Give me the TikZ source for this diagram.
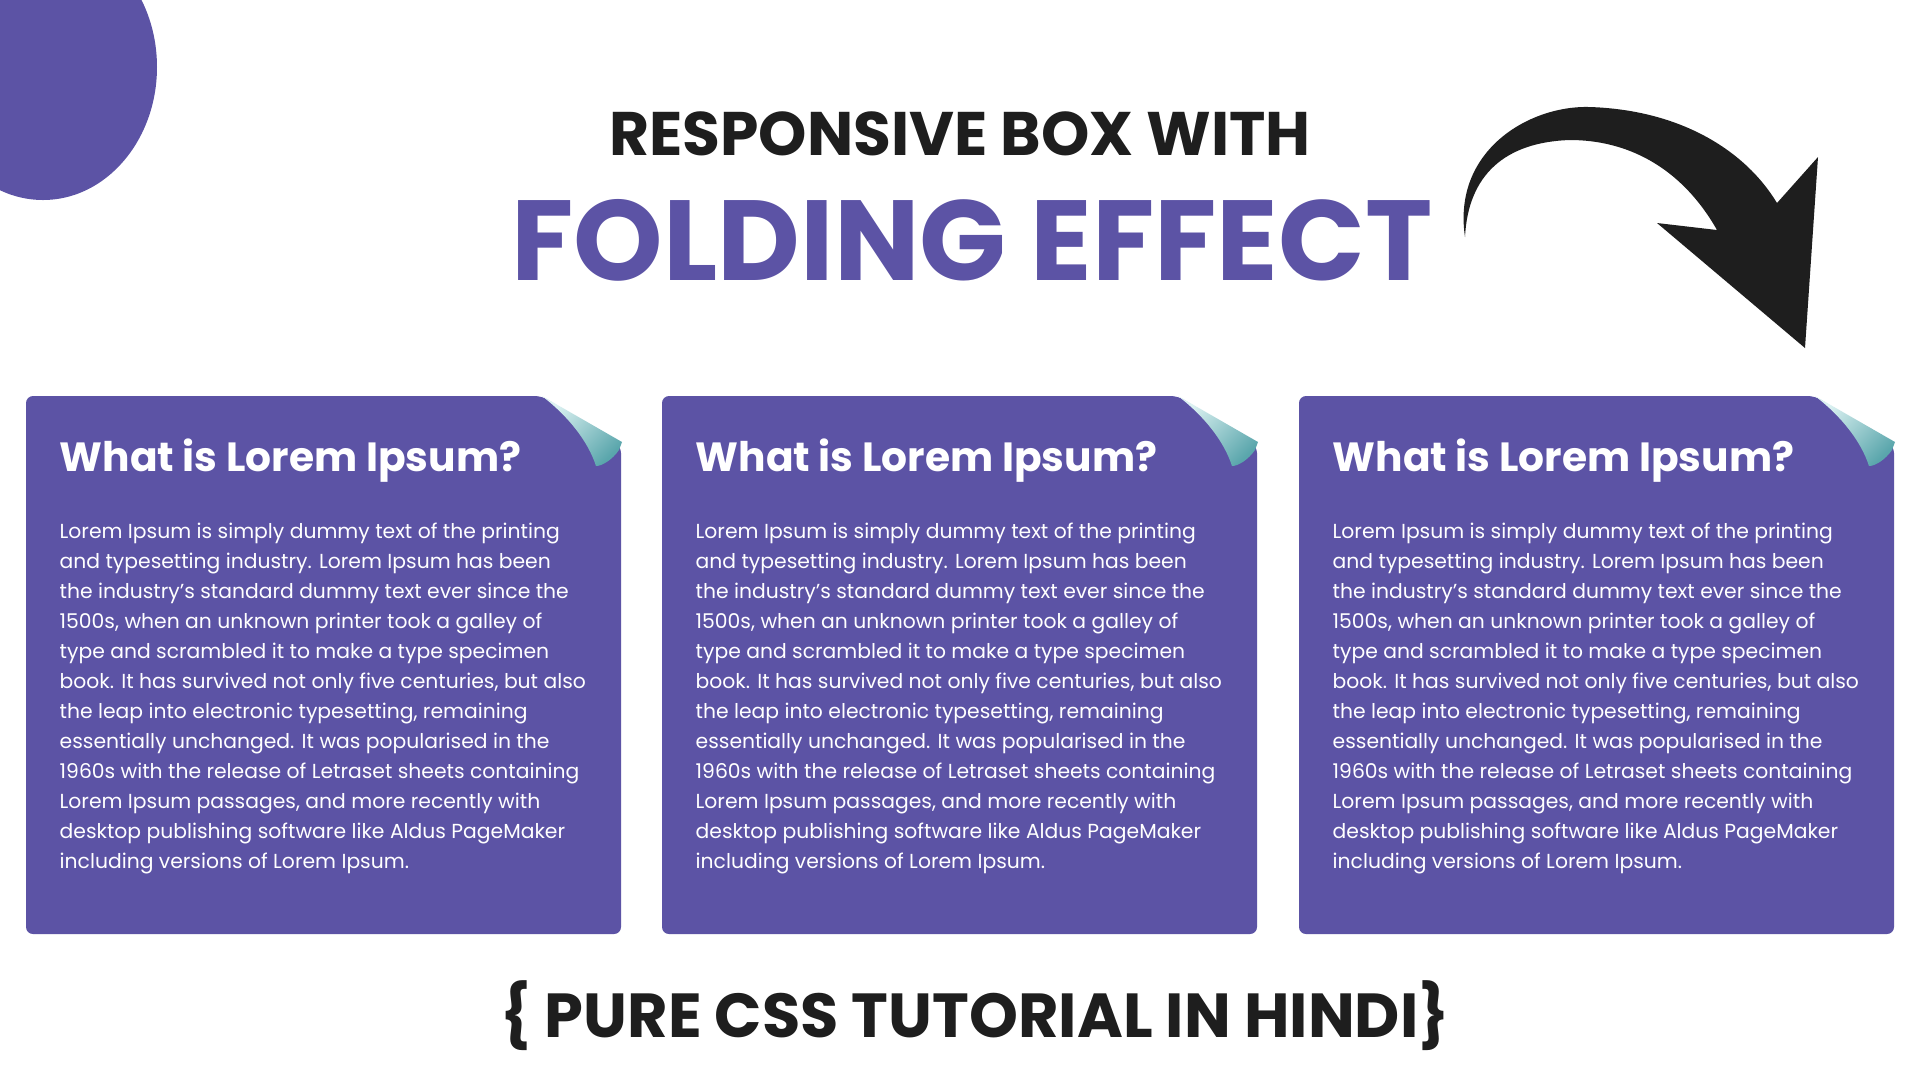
\documentclass[tikz,border=0pt]{standalone}
\usepackage{fontspec}
\setmainfont{Poppins}
\begin{document}
\begin{tikzpicture}[x=0.1mm,y=-0.1mm,
  boxfill/.style={fill=pur},
  head/.style={anchor=west,text=white,font=\fontsize{11.6}{14}\selectfont\bfseries,inner sep=0},
  body/.style={anchor=north west,text=white,align=left,inner sep=0,font=\fontsize{5.78}{8.55}\selectfont},
  curl/.style={left color=teal1,right color=teal2,shading angle=45}]
\definecolor{pur}{HTML}{5C53A5}
\definecolor{teal1}{HTML}{DDF2F2}
\definecolor{teal2}{HTML}{5AA6AC}
\definecolor{ink}{HTML}{1E1E1E}
\useasboundingbox (0,0) rectangle (1920,1080);
\fill[white] (0,0) rectangle (1920,1080);
\begin{scope}
\clip (0,0) rectangle (1920,1080);
\fill[pur] (43,67) ellipse [x radius=114, y radius=133];
\end{scope}
\node[text=ink,font=\fontsize{17.5}{20}\selectfont\bfseries,inner sep=0] (t1) at (960,134) {RESPONSIVE BOX WITH};
\node[text=pur,font=\fontsize{32.4}{36}\selectfont\bfseries,inner sep=0] (t2) at (972,240) {FOLDING EFFECT};
\node[text=ink,font=\fontsize{17.7}{20}\selectfont\bfseries,inner sep=0] (t3) at (975,1016) {\{ PURE CSS TUTORIAL IN HINDI\}};
\fill[ink] (1465,237) .. controls (1452,150) and (1530,105) .. (1590,107) .. controls (1680,110) and (1745,150) .. (1777,203) -- (1818,157) -- (1805,348) -- (1657,223) -- (1717,230) .. controls (1680,165) and (1625,140) .. (1570,140) .. controls (1505,142) and (1468,175) .. (1465,237) -- cycle;
\foreach \x [count=\i] in {26,662,1299}{
  \begin{scope}[shift={(\x,396)}]
  \fill[pur,rounded corners=2] (0,0) -- (516,0) -- (595,50) -- (595,538) -- (0,538) -- cycle;
  \shade[curl] (516,0) -- (596,46) -- (593,54) .. controls (586,64) and (576,70) .. (570,70) .. controls (562,45) and (542,20) .. (516,0) -- cycle;
  \node[head] (h\i) at (33,65) {What is Lorem Ipsum?};
  \node[body] (b\i) at (33,126) {Lorem Ipsum is simply dummy text of the printing\\
and typesetting industry. Lorem Ipsum has been\\
the industry's standard dummy text ever since the\\
1500s, when an unknown printer took a galley of\\
type and scrambled it to make a type specimen\\
book. It has survived not only five centuries, but also\\
the leap into electronic typesetting, remaining\\
essentially unchanged. It was popularised in the\\
1960s with the release of Letraset sheets containing\\
Lorem Ipsum passages, and more recently with\\
desktop publishing software like Aldus PageMaker\\
including versions of Lorem Ipsum.};
  \end{scope}
}
\end{tikzpicture}
\end{document}
